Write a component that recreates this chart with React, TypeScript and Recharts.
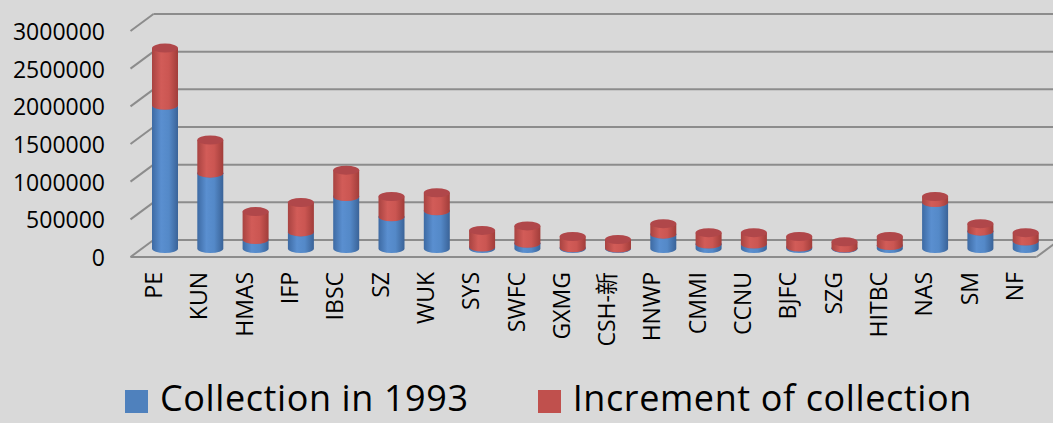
import React from 'react';
import { BarChart, Bar, XAxis, YAxis, CartesianGrid, Legend } from 'recharts';

const categories = ['PE', 'KUN', 'HMAS', 'IFP', 'IBSC', 'SZ', 'WUK', 'SYS', 'SWFC', 'GXMG', 'CSH-新', 'HNWP', 'CMMI', 'CCNU', 'BJFC', 'SZG', 'HITBC', 'NAS', 'SM', 'NF'];
const collection1993 = [1900000, 1000000, 120000, 220000, 690000, 420000, 500000, 20000, 70000, 10000, 5000, 190000, 60000, 60000, 20000, 5000, 40000, 610000, 230000, 100000];
const increment = [760000, 440000, 370000, 390000, 350000, 270000, 240000, 220000, 230000, 150000, 115000, 140000, 150000, 150000, 140000, 85000, 120000, 80000, 100000, 110000];
const yTicks = [0, 500000, 1000000, 1500000, 2000000, 2500000, 3000000];

const data = categories.map((name, i) => ({ name, c1993: collection1993[i], inc: increment[i] }));

const W = 1053;
const H = 423;
const DX = 11.5;
const DY = 8.5;
const PLOT_BOTTOM = 248.5;
const FONT = '"Open Sans", "Noto Sans CJK SC", sans-serif';

const Cylinder = (props: any) => {
  const { x, y, width, height, gradId, topColor } = props;
  if (x == null || y == null) return null;
  const top = Math.min(y, y + height);
  const h = Math.abs(height);
  const rx = width / 2;
  const ry = 4.5;
  const cx = x + rx;
  const bottom = top + h;
  const body = `M ${x},${top} L ${x},${bottom} A ${rx},${ry} 0 0 0 ${x + width},${bottom} L ${x + width},${top} Z`;
  return (
    <g>
      <path d={body} fill={`url(#${gradId})`} />
      <ellipse cx={cx} cy={top} rx={rx} ry={ry} fill={topColor} />
    </g>
  );
};

const gridLine = (p: any) => {
  const { x1, y1, x2 } = p;
  const isBottom = Math.abs(y1 - PLOT_BOTTOM) < 1;
  return (
    <g key={p.key}>
      <line x1={x1 + DX} y1={y1 - DY} x2={W + 20} y2={y1 - DY} stroke="#8c8c8c" strokeWidth={2} />
      <line x1={x1 - DX} y1={y1 + DY} x2={x1 + DX} y2={y1 - DY} stroke="#8c8c8c" strokeWidth={2} />
      {isBottom && (
        <>
          <line x1={x1 - DX} y1={y1 + DY} x2={x2 - DX} y2={y1 + DY} stroke="#8c8c8c" strokeWidth={2} />
          <line x1={x2 - DX} y1={y1 + DY} x2={x2 + DX} y2={y1 - DY} stroke="#8c8c8c" strokeWidth={2} />
        </>
      )}
    </g>
  );
};

const YTick = (props: any) => {
  const { y, payload } = props;
  return (
    <text x={105} y={y + DY} textAnchor="end" dominantBaseline="central" fontFamily={FONT} fontSize={23} fill="#000">
      {payload.value}
    </text>
  );
};

const XTick = (props: any) => {
  const { x, payload } = props;
  const tx = x - DX;
  const ty = 272;
  return (
    <text x={tx} y={ty} transform={`rotate(-90 ${tx} ${ty})`} textAnchor="end" dominantBaseline="central" fontFamily={FONT} fontSize={23} fill="#000">
      {payload.value}
    </text>
  );
};

const LegendContent = (props: any) => {
  const items = props.payload || [];
  return (
    <div style={{ height: 40, display: 'flex', alignItems: 'center', paddingLeft: 125, fontFamily: FONT, fontSize: 36, color: '#000', letterSpacing: '0.6px' }}>
      {items.map((it: any, i: number) => (
        <div key={i} style={{ display: 'flex', alignItems: 'center', marginRight: 69, height: 36 }}>
          <div style={{ width: 23, height: 23, background: it.color, marginRight: 12, marginTop: 6 }} />
          <span style={{ whiteSpace: 'nowrap', lineHeight: '36px', display: 'inline-block', height: 36 }}>{it.value}</span>
        </div>
      ))}
    </div>
  );
};

export default function App() {
  return (
    <div style={{ width: W, height: H, background: '#d9d9d9', overflow: 'hidden' }}>
      <style>{'body{margin:0;}'}</style>
      <BarChart width={W} height={H} data={data} margin={{ top: 22.5, right: 5, left: 0, bottom: 0 }} barSize={26}>
        <defs>
          <linearGradient id="gBlue" x1="0" y1="0" x2="1" y2="0">
            <stop offset="0%" stopColor="#3d6aa3" />
            <stop offset="35%" stopColor="#5a8fd0" />
            <stop offset="65%" stopColor="#5489c8" />
            <stop offset="100%" stopColor="#3a6398" />
          </linearGradient>
          <linearGradient id="gRed" x1="0" y1="0" x2="1" y2="0">
            <stop offset="0%" stopColor="#a84341" />
            <stop offset="35%" stopColor="#d25c58" />
            <stop offset="65%" stopColor="#cb5652" />
            <stop offset="100%" stopColor="#a13d3a" />
          </linearGradient>
        </defs>
        <CartesianGrid vertical={false} horizontal={gridLine} />
        <XAxis dataKey="name" interval={0} height={134.5} axisLine={false} tickLine={false} tick={<XTick />} />
        <YAxis width={142} domain={[0, 3000000]} ticks={yTicks} interval={0} axisLine={false} tickLine={false} tick={<YTick />} />
        <Legend verticalAlign="bottom" content={<LegendContent />} wrapperStyle={{ bottom: 5 }} />
        <Bar dataKey="c1993" name="Collection in 1993" stackId="s" fill="#4f81bd" isAnimationActive={false}
          shape={(p: any) => <Cylinder {...p} gradId="gBlue" topColor="#4a7dbb" />} />
        <Bar dataKey="inc" name="Increment of collection" stackId="s" fill="#c0504d" isAnimationActive={false}
          shape={(p: any) => <Cylinder {...p} gradId="gRed" topColor="#b0474a" />} />
      </BarChart>
    </div>
  );
}
